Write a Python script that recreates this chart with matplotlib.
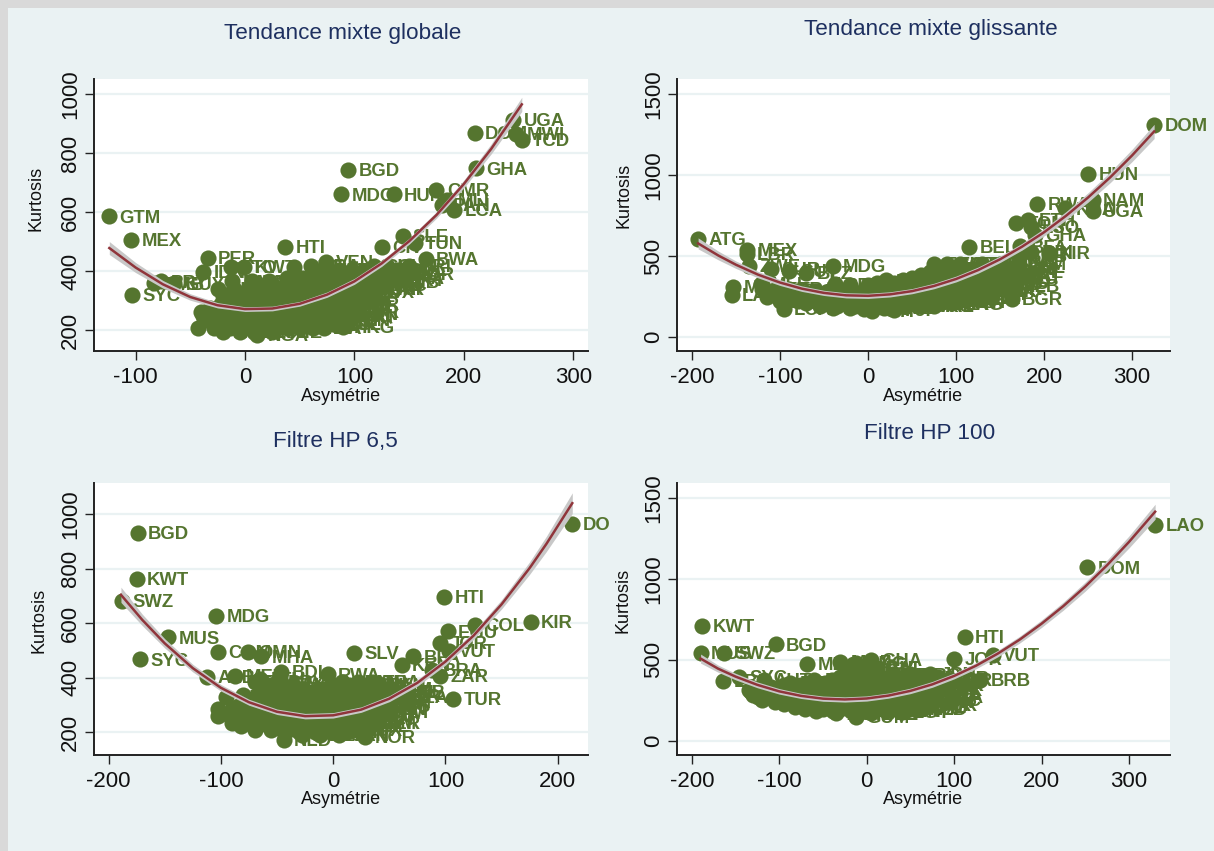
# -*- coding: utf-8 -*-
"""
Kurtosis contre asymetrie pour quatre mesures de tendance (nuages + ajustement quadratique)
"""

import matplotlib
matplotlib.use('Agg')
import matplotlib.pyplot as plt
from matplotlib.patches import Rectangle

plt.rcParams['font.family'] = ['Liberation Sans', 'DejaVu Sans']
plt.rcParams['axes.unicode_minus'] = False

# codes pays des points au milieu du nuage (illisibles sur l'image, caches par les marqueurs)
cloud_codes = ['AUT', 'BEL', 'CAN', 'CHE', 'DEU', 'DNK', 'ESP', 'FIN', 'FRA', 'GBR', 'GRC', 'IRL', 'ITA', 'JPN',
               'LUX', 'NLD', 'NOR', 'NZL', 'PRT', 'SWE', 'USA', 'ARG', 'BOL', 'BRA', 'CHL', 'CHN', 'CRI', 'ECU',
               'EGY', 'GTM', 'HND', 'IND', 'JAM', 'KEN', 'MAR', 'MYS', 'NIC', 'PAK', 'PAN', 'PHL', 'PRY', 'SEN',
               'SGP', 'THA', 'TTO', 'TUN', 'URY', 'ZMB']

# Tendance mixte globale
a_names = ['GTM', 'MEX', 'SYC', 'BGD', 'MDG', 'HUN', 'CMR', 'GHA', 'DOM', 'UGA', 'TCD', 'MWI', 'LCA', 'PAN', 'MLI',
           'SLE', 'CIV', 'TUN', 'BWA', 'PER', 'IDN', 'TTO', 'KWT', 'HTI', 'ARE', 'VEN', 'PRT', 'ZAR', 'TGO', 'HKG',
           'NGA', 'SDN', 'ZMB', 'PRY', 'GUY', 'NOR', 'SUR']
a_x = [-124, -104, -103, 94, 88, 136, 175, 211, 210, 245, 253, 248, 191, 180, 185,
       144, 125, 155, 165, -34, -38, -13, -1, 37, 45, 74, 140, 120, -43, 90,
       11, 95, -83, -77, -65, 85, 96]
a_y = [585, 505, 318, 742, 660, 660, 675, 748, 868, 912, 845, 865, 607, 625, 640,
       518, 482, 495, 440, 445, 397, 415, 415, 482, 415, 432, 370, 340, 208, 212,
       183, 255, 358, 365, 358, 268, 290]
a_rows_y = [195, 208, 222, 235, 248, 262, 275, 288, 302, 315, 328, 340, 352, 365, 378, 390, 405, 418]
a_rows_x = [[-20, -5, 8, 25],
            [-28, -14, -2, 12, 25, 38, 50, 62, 72],
            [-28, -15, -3, 10, 22, 35, 47, 58, 70, 80],
            [-35, -22, -10, 3, 15, 28, 40, 53, 65, 77, 88],
            [-38, -26, -14, -2, 10, 22, 34, 47, 59, 71, 84, 92],
            [-40, -28, -16, -4, 8, 20, 32, 45, 57, 70, 82, 94],
            [-32, -20, -8, 4, 16, 28, 40, 52, 64, 76, 88],
            [-22, -10, 2, 14, 26, 38, 50, 62, 74, 86, 96],
            [-16, -4, 8, 20, 32, 44, 56, 68, 80, 90],
            [-20, -8, 5, 18, 30, 43, 55, 67, 79, 92],
            [-12, 2, 14, 27, 40, 52, 64, 76, 88, 100, 112],
            [-25, -10, 3, 20, 33, 47, 60, 72, 85, 97, 110, 122],
            [12, 26, 40, 54, 66, 78, 90, 103, 116, 128],
            [-12, 6, 22, 40, 55, 68, 80, 95, 108, 120, 132],
            [38, 52, 64, 76, 88, 100, 112, 125, 138],
            [45, 62, 78, 92, 105, 120, 135, 145],
            [72, 86, 98, 112, 126, 140],
            [60, 118, 130, 150]]
a_fit_x = [-124, -100, -75, -50, -25, 0, 25, 50, 75, 100, 125, 150, 175, 200, 225, 253]
a_fit_y = [478, 412, 355, 312, 284, 271, 273, 289, 320, 365, 426, 501, 590, 695, 814, 965]
a_ci = [22, 17, 13, 11, 9, 8, 8, 8, 9, 10, 10, 10, 11, 13, 17, 24]

# Tendance mixte glissante
b_names = ['DOM', 'HUN', 'RWA', 'NAM', 'UGA', 'KNA', 'TON', 'ETH', 'LSO', 'GHA', 'BEL', 'BFA', 'BDI', 'KIR', 'SRB',
           'BOL', 'MLB', 'BGR', 'ATG', 'MEX', 'LBR', 'ZWE', 'SUR', 'GUY', 'MDG', 'MDV', 'LAO', 'MLI', 'LCA', 'SEN',
           'CYP', 'BHS', 'FJI', 'BLZ']
b_x = [325, 250, 192, 255, 255, 224, 168, 182, 185, 190, 115, 173, 185, 205, 170,
       169, 160, 163, -193, -137, -138, -135, -110, -90, -40, -153, -155, -122, -96, -37,
       5, -5, 30, -70]
b_y = [1310, 1010, 825, 847, 780, 795, 705, 725, 680, 630, 555, 560, 525, 520, 500,
       433, 315, 235, 605, 540, 515, 440, 420, 410, 440, 310, 260, 330, 175, 325,
       160, 175, 170, 395]
b_rows_y = [178, 195, 208, 220, 232, 245, 258, 270, 285, 300, 320, 335, 350, 368, 385, 402, 420, 450]
b_rows_x = [[-40, -20, 0, 18],
            [-55, -35, -15, 5, 22, 40, 60, 75],
            [-70, -50, -30, -10, 10, 30, 48, 66, 82, 95],
            [-100, -80, -60, -40, -20, 0, 20, 40, 55, 72, 88, 100],
            [-90, -70, -50, -30, -10, 10, 30, 48, 64, 80, 96, 110],
            [-115, -95, -75, -55, -38, -20, -2, 15, 32, 50, 68, 85, 100, 118, 130],
            [-105, -85, -65, -45, -28, -10, 8, 26, 42, 60, 76, 92, 108, 124],
            [-108, -90, -70, -50, -30, -12, 5, 25, 45, 62, 80, 98, 115, 130],
            [-98, -80, -60, -20, 0, 18, 36, 54, 72, 90, 106, 122, 136],
            [-120, -105, -90, 25, 45, 62, 80, 98, 115, 130, 140],
            [-20, 0, 20, 38, 55, 72, 90, 108, 125, 140],
            [10, 30, 48, 64, 82, 100, 118, 134, 148],
            [20, 40, 60, 78, 95, 112, 130, 145, 155],
            [50, 68, 86, 102, 118, 134, 150, 160],
            [60, 78, 95, 110, 125, 140, 155, 165],
            [70, 86, 102, 118, 132, 148, 162],
            [78, 95, 110, 125, 140, 155, 168],
            [75, 90, 105, 130, 150, 170]]
b_fit_x = [-193, -170, -150, -125, -100, -75, -50, -25, 0, 25, 50, 75, 100, 125, 150, 175, 200, 225, 250, 275, 300, 325]
b_fit_y = [579, 504, 447, 386, 337, 299, 273, 258, 255, 264, 284, 316, 359, 414, 481, 559, 648, 750, 863, 987, 1123, 1271]
b_ci = [34, 27, 23, 20, 18, 17, 16, 16, 16, 16, 16, 17, 18, 19, 20, 21, 23, 26, 29, 33, 38, 44]

# Filtre HP 6,5
c_names = ['BGD', 'KWT', 'SWZ', 'MUS', 'MDG', 'SYC', 'COM', 'OMN', 'MHA', 'DO', 'HTI', 'EGU', 'COL', 'KIR', 'JOR',
           'VUT', 'SLV', 'BFA', 'KEN', 'BRA', 'ZAR', 'TUR', 'RWA', 'BDI', 'ALB', 'MEX', 'LTU', 'NOR', 'NLD', 'ZMB',
           'MWI', 'GER', 'TZA', 'HUN']
c_x = [-174, -175, -188, -147, -104, -172, -103, -76, -64, 213, 99, 102, 126, 176, 95,
       103, 19, 71, 61, 88, 95, 107, -5, -46, -112, -87, -65, 28, -44, 55,
       42, 33, 62, -95]
c_y = [930, 763, 683, 548, 628, 467, 495, 495, 478, 965, 695, 570, 593, 605, 527,
       497, 490, 478, 447, 430, 407, 322, 412, 420, 403, 408, 395, 183, 173, 347,
       273, 233, 330, 330]
c_rows_y = [190, 200, 210, 222, 235, 248, 260, 272, 285, 298, 310, 322, 335, 348, 360, 372, 385]
c_rows_x = [[-28, -12, 5],
            [-44, -30, -16, -2, 12],
            [-70, -55, -40, -25, -10, 5, 20],
            [-82, -68, -52, -38, -22, -8, 8, 24],
            [-90, -78, -65, -50, -35, -20, -5, 8, 22, 30],
            [-85, -72, -58, -42, -28, -12, 2, 16, 28],
            [-103, -92, -80, -68, -55, -40, -25, -10, 5, 18, 30],
            [-88, -74, -60, -46, -32, -18, -2, 12, 26, 36],
            [-103, -90, -75, -60, -45, -30, -15, 0, 12, 25, 38],
            [-85, -68, -52, -38, -22, -8, 8, 20, 34, 42],
            [-75, -60, -45, -30, -15, 0, 15, 28, 40, 45],
            [-72, -52, -38, -22, -8, 6, 20, 34, 46],
            [-80, -65, -50, -35, -20, -5, 10, 25, 38, 50],
            [-58, -42, -22, -4, 12, 28, 42, 52],
            [-65, -45, -28, -10, 5, 20, 35, 45],
            [-56, -36, 0, 14, 28, 40],
            [-70, -50, 8, 22, 35]]
c_fit_x = [-189, -170, -150, -125, -100, -75, -50, -25, 0, 25, 50, 75, 100, 125, 150, 175, 190, 213]
c_fit_y = [704, 612, 526, 435, 363, 310, 275, 259, 262, 283, 323, 381, 459, 554, 669, 802, 891, 1040]
c_ci = [28, 21, 17, 14, 12, 11, 10, 10, 10, 10, 11, 12, 13, 14, 17, 23, 28, 38]

# Filtre HP 100
d_names = ['LAO', 'DOM', 'KWT', 'MUS', 'SWZ', 'BGD', 'MDG', 'MOZ', 'PNG', 'GHA', 'HTI', 'JOR', 'VUT', 'BRB', 'LBR',
           'SYC', 'JPN', 'TUR', 'GUM', 'EGY']
d_x = [330, 252, -188, -190, -163, -104, -68, -30, -12, 5, 112, 100, 144, 130, -164,
       -146, 73, 72, -12, 40]
d_y = [1335, 1070, 710, 545, 545, 595, 475, 490, 480, 500, 640, 505, 530, 375, 370,
       395, 415, 222, 150, 180]
d_rows_y = [170, 185, 198, 212, 225, 240, 255, 270, 285, 300, 315, 330, 345, 360, 375, 392, 410, 450]
d_rows_x = [[-35, 5],
            [-58, -38, -18, 2, 22, 40],
            [-70, -50, -30, -10, 10, 30, 50, 60],
            [-82, -64, -46, -28, -10, 8, 26, 44, 58],
            [-95, -78, -60, -42, -25, -8, 10, 28, 45, 60],
            [-105, -88, -70, -52, -34, -16, 2, 20, 38, 54, 68],
            [-120, -105, -90, -72, -55, -38, -20, -3, 15, 30, 48, 65, 72],
            [-124, -108, -92, -74, -56, -40, -22, -4, 14, 32, 50, 66, 76],
            [-130, -115, -100, -82, -65, -48, -30, -12, 5, 22, 40, 58, 72],
            [-132, -116, -98, -80, -62, -44, -26, -8, 10, 28, 46, 62, 76],
            [-135, -118, -100, -82, -62, -45, -28, -10, 8, 25, 42, 60, 78],
            [-110, -92, -74, -56, -38, -20, -2, 16, 34, 52, 68, 80],
            [-95, -75, -55, -35, -15, 3, 22, 40, 58, 75, 80],
            [-88, -68, -48, -28, -8, 10, 28, 46, 64, 78],
            [-118, -60, -40, -20, -2, 18, 35, 55, 72, 85],
            [-30, -10, 8, 26, 44, 62, 82],
            [-25, -5, 10, 30, 50],
            [-20, -5, 10]]
d_fit_x = [-190, -170, -150, -125, -100, -75, -50, -25, 0, 25, 50, 75, 100, 125, 150, 175, 200, 225, 250, 275, 300, 330]
d_fit_y = [508, 446, 397, 346, 306, 278, 261, 256, 262, 280, 309, 349, 401, 464, 539, 625, 723, 832, 952, 1084, 1227, 1414]
d_ci = [28, 22, 20, 18, 17, 16, 16, 16, 16, 16, 17, 18, 18, 19, 20, 21, 23, 25, 28, 32, 37, 46]

titles = ['Tendance mixte globale', 'Tendance mixte glissante', 'Filtre HP 6,5', 'Filtre HP 100']
x_ticks_a = [-100, 0, 100, 200, 300]
x_ticks_b = [-200, -100, 0, 100, 200, 300]
x_ticks_c = [-200, -100, 0, 100, 200]
y_ticks_small = [200, 400, 600, 800, 1000]
y_ticks_large = [0, 500, 1000, 1500]

W, H = 1214, 851
BG = '#eaf2f3'
GREEN = '#55752f'
NAVY = '#1e3060'
MAROON = '#90353b'
BAND = '#c8c8c8'
AXIS = '#222222'


def fig_x(px):
    return px / W


def fig_y(py):
    return 1 - py / H


def plot_panel(fig, box, lims, names, xs, ys, rows_y, rows_x, fit_x, fit_y, ci, xticks, yticks, title, texts):
    """
    box: (gauche, haut, droite, bas) en pixels, lims: (xmin, xmax, ymin, ymax)
    texts: positions en pixels du titre, du label x et du label y
    """
    left, top, right, bottom = box
    ax = fig.add_axes([fig_x(left), fig_y(bottom), (right - left) / W, (bottom - top) / H])
    ax.set_xlim(lims[0], lims[1])
    ax.set_ylim(lims[2], lims[3])
    ax.set_facecolor('white')

    ax.set_axisbelow(True)
    ax.yaxis.grid(True, color=BG, linewidth=1.6)
    ax.xaxis.grid(False)
    for side in ['top', 'right']:
        ax.spines[side].set_visible(False)
    for side in ['left', 'bottom']:
        ax.spines[side].set_linewidth(1.4)
        ax.spines[side].set_color(AXIS)

    ax.set_xticks(xticks)
    ax.set_yticks(yticks)
    ax.tick_params(axis='both', length=6.8, width=1.0, color=AXIS, labelsize=16, labelcolor='#111111')
    ax.tick_params(axis='x', pad=4.5)
    ax.tick_params(axis='y', pad=2.5)
    plt.setp(ax.get_yticklabels(), rotation=90, va='center')

    # points du nuage : une ligne par niveau de kurtosis
    all_x = list(xs)
    all_y = list(ys)
    all_names = list(names)
    k = 0
    for level, row in zip(rows_y, rows_x):
        for x in row:
            all_x.append(x)
            all_y.append(level)
            all_names.append(cloud_codes[k % len(cloud_codes)])
            k += 1

    ax.scatter(all_x, all_y, s=135, color=GREEN, linewidths=0, zorder=3, clip_on=False)
    for x, y, name in zip(all_x, all_y, all_names):
        ax.annotate(name, (x, y), xytext=(7.5, -1.2), textcoords='offset points', va='center', ha='left',
                    fontsize=13.3, fontweight='bold', color=GREEN, zorder=3, annotation_clip=False)

    low = [v - c for v, c in zip(fit_y, ci)]
    high = [v + c for v, c in zip(fit_y, ci)]
    ax.fill_between(fit_x, low, high, color=BAND, linewidth=0, zorder=4)
    ax.plot(fit_x, fit_y, color=MAROON, linewidth=1.8, zorder=5)

    title_pos, xlabel_pos, ylabel_pos = texts
    fig.text(fig_x(title_pos[0]), fig_y(title_pos[1]), title, ha='center', va='center', fontsize=16.2, color=NAVY)
    fig.text(fig_x(xlabel_pos[0]), fig_y(xlabel_pos[1]), 'Asymétrie', ha='center', va='center', fontsize=13, color='#111111')
    fig.text(fig_x(ylabel_pos[0]), fig_y(ylabel_pos[1]), 'Kurtosis', ha='center', va='center', rotation=90,
             fontsize=13, color='#111111')
    return ax


panel_texts = [((343, 34), (341, 396), (36, 198)),
               ((931, 30), (923, 396), (624, 195)),
               ((335, 442), (341, 800), (39, 620)),
               ((930, 433), (923, 800), (623, 600))]

fig = plt.figure(figsize=(W / 100, H / 100), dpi=100, facecolor=BG)
# bande grise en haut et a gauche de la capture
fig.add_artist(Rectangle((0, fig_y(8)), 1, 8 / H, transform=fig.transFigure, color='#d9d9d9', linewidth=0))
fig.add_artist(Rectangle((0, 0), 8 / W, 1, transform=fig.transFigure, color='#d9d9d9', linewidth=0))

plot_panel(fig, (94, 79, 588, 351), (-138, 313.5, 129, 1051), a_names, a_x, a_y, a_rows_y, a_rows_x,
           a_fit_x, a_fit_y, a_ci, x_ticks_a, y_ticks_small, titles[0], panel_texts[0])
plot_panel(fig, (677, 79, 1170, 351), (-217, 343, -86, 1595), b_names, b_x, b_y, b_rows_y, b_rows_x,
           b_fit_x, b_fit_y, b_ci, x_ticks_b, y_ticks_large, titles[1], panel_texts[1])
plot_panel(fig, (94, 483, 588, 755), (-213, 227, 116.5, 1114), c_names, c_x, c_y, c_rows_y, c_rows_x,
           c_fit_x, c_fit_y, c_ci, x_ticks_c, y_ticks_small, titles[2], panel_texts[2])
plot_panel(fig, (677, 483, 1170, 755), (-217, 347, -86.5, 1591), d_names, d_x, d_y, d_rows_y, d_rows_x,
           d_fit_x, d_fit_y, d_ci, x_ticks_b, y_ticks_large, titles[3], panel_texts[3])

fig.savefig('out.png', dpi=100, facecolor=BG)
